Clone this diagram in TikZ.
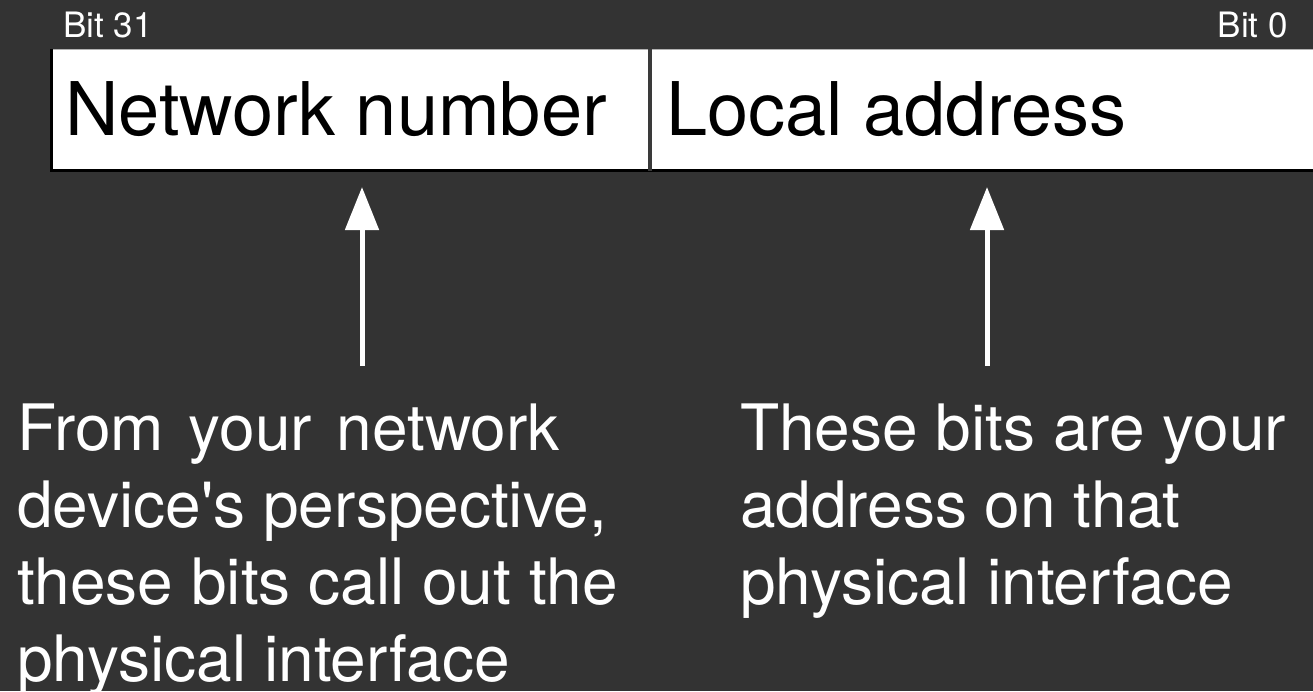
\documentclass[tikz,border=0pt]{standalone}
\usepackage{fontspec}
\setmainfont{TeX Gyre Heros}
\usetikzlibrary{arrows.meta}
\definecolor{bg}{HTML}{333333}
\definecolor{divcol}{HTML}{3A3A3A}
\tikzset{
  small/.style={text=white, inner sep=0pt, anchor=base west, font=\fontsize{35}{40}\selectfont},
  big/.style={text=black, inner sep=0pt, anchor=base west, font=\fontsize{74}{80}\selectfont},
  note/.style={text=white, inner sep=0pt, anchor=base west, align=left, font=\fontsize{64}{77}\selectfont},
  uparrow/.style={draw=white, line width=5pt, -{Triangle[length=43pt,width=33pt]}}
}
\begin{document}
\begin{tikzpicture}[x=1pt,y=-1pt]
\fill[bg] (0,0) rectangle (1313,691);
\useasboundingbox (0,0) rectangle (1313,691);
% box
\fill[white] (50,49) rectangle (1320,170);
\draw[gray!60, line width=1pt] (50,49.5) -- (1320,49.5);
\draw[black, line width=3pt] (51.5,49) -- (51.5,170) -- (1320,170);
\draw[divcol, line width=4pt] (650,49) -- (650,171);
% labels
\node[small] (b31) at (63,37) {Bit 31};
\node[small, anchor=base east] (b0) at (1288,37) {Bit 0};
\node[big] (net) at (65,135) {Network number};
\node[big] (loc) at (666,135) {Local address};
% arrows
\coordinate (a1s) at (362,366);
\coordinate (a1t) at (362,187);
\coordinate (a2s) at (987,366);
\coordinate (a2t) at (987,187);
\draw[uparrow] (a1s) -- (a1t);
\draw[uparrow] (a2s) -- (a2t);
% notes (base anchor = last line's baseline)
\node[note] (left) at (17,681) {From\hspace{7pt} your\hspace{7pt} network\\device\textquotesingle s perspective,\\these bits call out the\\physical interface};
\node[note] (right) at (740,604) {These bits are your\\address on that\\physical interface};
\end{tikzpicture}
\end{document}
